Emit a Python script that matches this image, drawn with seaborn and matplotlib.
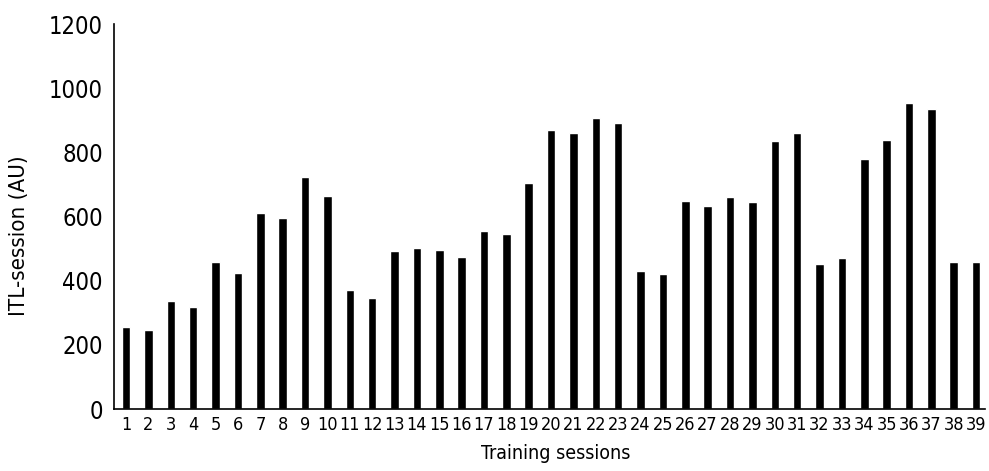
import pandas as pd
import seaborn as sns
import matplotlib.pyplot as plt
from matplotlib import font_manager

sessions = list(range(1, 40))
itl = [257, 246, 338, 317, 457, 423, 611, 596, 722, 665,
       371, 345, 491, 502, 497, 474, 556, 546, 706, 871,
       861, 906, 891, 431, 420, 649, 634, 661, 644, 834,
       861, 452, 472, 779, 840, 953, 934, 457, 457]

df = pd.DataFrame({"session": [str(s) for s in sessions], "itl": itl})

sns.set_style("white")
names = {f.name for f in font_manager.fontManager.ttflist}
narrow = [n for n in ["Liberation Sans Narrow", "DejaVu Sans Condensed"] if n in names]
plt.rcParams['font.family'] = narrow + ['DejaVu Sans']
plt.rcParams['font.stretch'] = 'condensed'
plt.rcParams['text.color'] = 'black'
plt.rcParams['axes.labelcolor'] = 'black'
plt.rcParams['xtick.color'] = 'black'
plt.rcParams['ytick.color'] = 'black'

fig = plt.figure(figsize=(9.89, 4.71), dpi=100)
ax = fig.add_axes([0.1153, 0.1316, 0.8807, 0.8174])
sns.barplot(data=df, x="session", y="itl", color="black", width=0.38,
            saturation=1, ax=ax)

ax.set_ylim(0, 1200)
ax.set_yticks(range(0, 1201, 200))
ax.set_xlim(-0.54, 38.4)
ax.tick_params(axis="y", labelsize=17, length=0, pad=8)
ax.tick_params(axis="x", labelsize=13, length=0, pad=5)
ax.set_ylabel("ITL-session (AU)", fontsize=16)
ax.yaxis.set_label_coords(-0.098, 0.45)
ax.set_xlabel("Training sessions", fontsize=14)
ax.xaxis.set_label_coords(0.507, -0.092)

sns.despine(ax=ax, top=True, right=True)
for s in ["left", "bottom"]:
    ax.spines[s].set_color("black")
    ax.spines[s].set_linewidth(1.2)

fig.savefig("out.png", dpi=100)
